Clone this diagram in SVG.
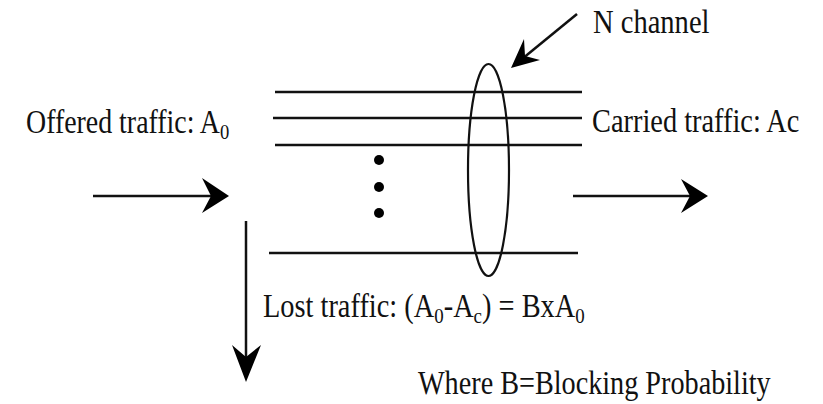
<svg xmlns="http://www.w3.org/2000/svg" width="823" height="404" viewBox="0 0 823 404">
<style>
.t{font-family:"Liberation Serif","Times New Roman",serif;font-size:33px;fill:#111}
.s{font-size:22px}
.ln{stroke:#111;stroke-width:2.5;fill:none}
.ah{fill:#000}
</style>
<rect width="823" height="404" fill="#fff"/>
<g id="channels">
<line class="ln" x1="275" y1="92" x2="582" y2="92"/>
<line class="ln" x1="273" y1="118" x2="582" y2="118"/>
<line class="ln" x1="275" y1="145" x2="582" y2="145"/>
<line class="ln" x1="269" y1="253" x2="578" y2="253"/>
<circle cx="379" cy="160" r="5" fill="#000"/>
<circle cx="379" cy="187" r="5" fill="#000"/>
<circle cx="379" cy="213" r="5" fill="#000"/>
</g>
<g id="bundle">
<ellipse cx="488.5" cy="170" rx="20.5" ry="106" fill="none" stroke="#111" stroke-width="2.2"/>
</g>
<g id="connectors">
<line class="ln" x1="93" y1="196" x2="215" y2="196"/>
<path class="ah" d="M229,196 L202,178 L211,196 L202,213 Z"/>
<line class="ln" x1="573" y1="196" x2="694" y2="196"/>
<path class="ah" d="M708,196 L681,179 L690,196 L681,213 Z"/>
<line class="ln" x1="246" y1="221" x2="246" y2="365"/>
<path class="ah" d="M246,382 L232,345 L246,357 L261,345 Z"/>
<line class="ln" x1="577" y1="14" x2="522" y2="59"/>
<path class="ah" d="M511,68 L524,39 L525,56 L540,60 Z"/>
</g>
<g id="labels">
<text class="t" transform="translate(593,33) scale(0.865,1)">N channel</text>
<text class="t" transform="translate(26,133) scale(0.845,1)">Offered traffic: A<tspan class="s" dy="6">0</tspan></text>
<text class="t" transform="translate(592,132) scale(0.86,1)">Carried traffic: Ac</text>
<text class="t" transform="translate(263,317) scale(0.86,1)">Lost traffic: (A<tspan class="s" dy="6">0</tspan><tspan dy="-6">-A</tspan><tspan class="s" dy="6">c</tspan><tspan dy="-6">) = BxA</tspan><tspan class="s" dy="6">0</tspan></text>
<text class="t" transform="translate(418,394) scale(0.855,1)">Where B=Blocking Probability</text>
</g>
</svg>
